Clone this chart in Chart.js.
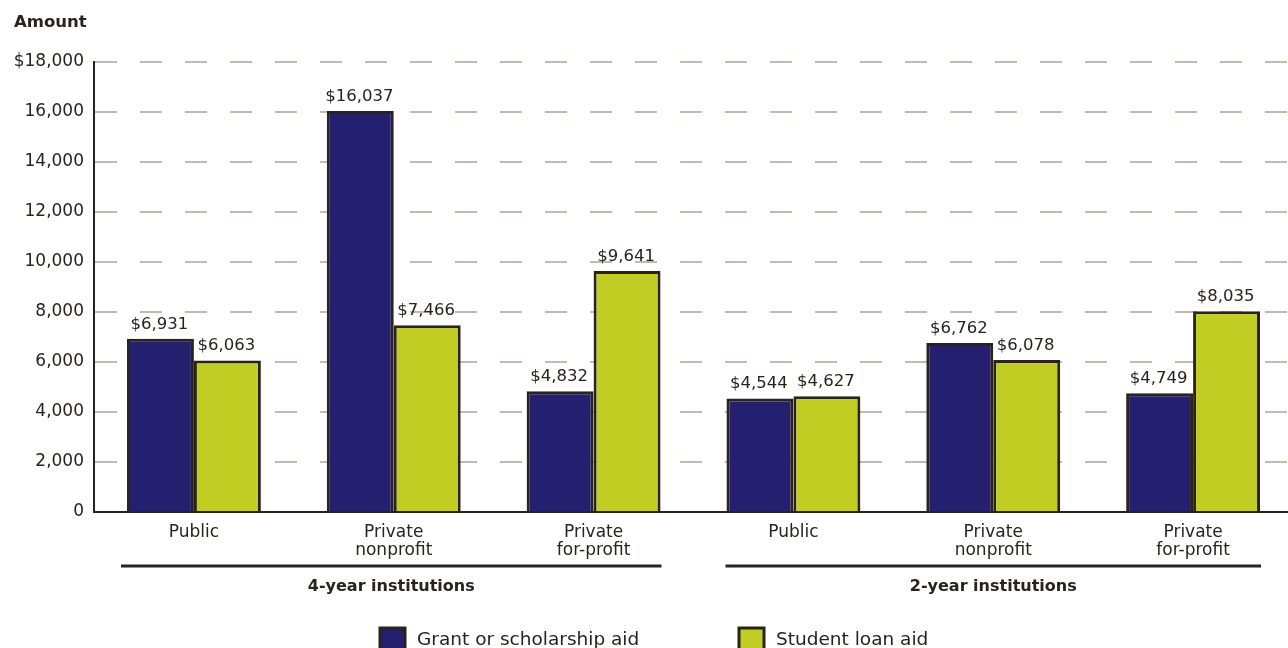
<!DOCTYPE html>
<html>
<head>
<meta charset="utf-8">
<script src="https://cdn.jsdelivr.net/npm/chart.js@4"></script>
<style>
  html, body { margin: 0; padding: 0; background: #fff; overflow: hidden; }
  /* the source plot runs a few pixels past the right edge of the frame */
  #wrap { width: 1293px; height: 648px; position: relative; }
</style>
</head>
<body>
<div id="wrap"><canvas id="aidChart"></canvas></div>
<script>
// Data
const categories = [
  'Public', ['Private', 'nonprofit'], ['Private', 'for-profit'],
  'Public', ['Private', 'nonprofit'], ['Private', 'for-profit']
];
const groups = ['4-year institutions', '2-year institutions'];
const grantAid = [6931, 16037, 4832, 4544, 6762, 4749];
const loanAid = [6063, 7466, 9641, 4627, 6078, 8035];
const seriesNames = ['Grant or scholarship aid', 'Student loan aid'];

const ink = '#2a231c';
const navy = '#241f6e';
const lime = '#c2cd23';
const fontFamily = '"DejaVu Sans", sans-serif';

const money = v => '$' + v.toLocaleString('en-US');

// labels above bars, group rules + titles, axis title, legend
const extras = {
  id: 'extras',
  afterDatasetsDraw(chart) {
    const ctx = chart.ctx;
    ctx.save();
    ctx.fillStyle = ink;
    ctx.font = '16.5px ' + fontFamily;
    ctx.textAlign = 'center';
    ctx.textBaseline = 'alphabetic';
    chart.data.datasets.forEach((ds, i) => {
      chart.getDatasetMeta(i).data.forEach((bar, j) => {
        ctx.fillText(money(ds.data[j]), bar.x - 1, bar.y - 10);
      });
    });
    ctx.restore();
  },
  afterDraw(chart) {
    const ctx = chart.ctx;
    const x = chart.scales.x;
    ctx.save();
    ctx.fillStyle = ink;
    ctx.strokeStyle = ink;

    // axis title
    ctx.font = 'bold 16.5px ' + fontFamily;
    ctx.textAlign = 'left';
    ctx.textBaseline = 'middle';
    ctx.fillText('Amount', 14, 23);

    // group rules and titles
    const half = (x.getPixelForValue(1) - x.getPixelForValue(0)) / 2;
    ctx.font = 'bold 16px ' + fontFamily;
    groups.forEach((g, k) => {
      const a = x.getPixelForValue(k * 3) - half + 27 + k * 5;
      const b = x.getPixelForValue(k * 3 + 2) + half - 32;
      ctx.lineWidth = 3;
      ctx.beginPath();
      ctx.moveTo(a, 566);
      ctx.lineTo(b, 566);
      ctx.stroke();
      ctx.textAlign = 'center';
      ctx.fillText(g, (a + b) / 2, 587);
    });

    // legend (partly cut by the bottom edge, as in the source)
    const items = [
      { x: 380, color: navy, text: seriesNames[0] },
      { x: 739, color: lime, text: seriesNames[1] }
    ];
    ctx.font = '18.5px ' + fontFamily;
    ctx.textAlign = 'left';
    ctx.textBaseline = 'alphabetic';
    items.forEach(it => {
      ctx.fillStyle = it.color;
      ctx.fillRect(it.x, 628, 25, 25);
      ctx.lineWidth = 3;
      ctx.strokeRect(it.x, 628, 25, 25);
      ctx.fillStyle = ink;
      ctx.fillText(it.text, it.x + 37, 645);
    });
    ctx.restore();
  }
};

const ctx = document.getElementById('aidChart').getContext('2d');
const aidChart = new Chart(ctx, {
  type: 'bar',
  data: {
    labels: categories,
    datasets: [{
      label: seriesNames[0],
      data: grantAid,
      backgroundColor: navy,
      borderColor: ink,
      borderWidth: 3,
      borderSkipped: 'bottom'
    }, {
      label: seriesNames[1],
      data: loanAid,
      backgroundColor: lime,
      borderColor: ink,
      borderWidth: 3,
      borderSkipped: 'bottom'
    }]
  },
  options: {
    responsive: true,
    maintainAspectRatio: false,
    animation: false,
    datasets: { bar: { categoryPercentage: 0.67, barPercentage: 1 } },
    layout: { padding: { top: 62, right: 0, bottom: 0, left: 0 } },
    plugins: {
      legend: { display: false },
      tooltip: { enabled: false }
    },
    scales: {
      x: {
        grid: { display: false },
        border: { display: true, color: ink, width: 2 },
        ticks: {
          color: ink,
          font: { family: fontFamily, size: 17, lineHeight: 1.05 },
          padding: 4,
          maxRotation: 0,
          autoSkip: false
        },
        afterFit(scale) { scale.height = 136; }
      },
      y: {
        min: 0,
        max: 18000,
        ticks: {
          stepSize: 2000,
          color: ink,
          padding: 10,
          font: { family: fontFamily, size: 17 },
          callback: v => v === 18000 ? money(v) : v.toLocaleString('en-US')
        },
        grid: { color: '#c2baae', lineWidth: 2, drawTicks: false },
        border: { display: true, color: ink, width: 2, dash: [22, 23] },
        afterFit(scale) { scale.width = 94; }
      }
    }
  },
  plugins: [extras]
});
</script>
</body>
</html>
